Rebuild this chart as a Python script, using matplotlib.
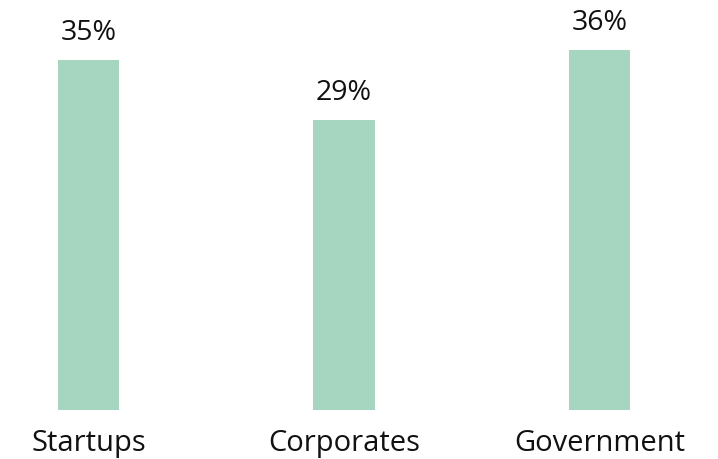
import matplotlib.pyplot as plt

categories = ['Startups', 'Corporates', 'Government']
shares = [35, 29, 36]

bar_color = '#a6d5c0'
plt.rcParams['font.family'] = ['Open Sans', 'DejaVu Sans']

fig = plt.figure(figsize=(7.18, 4.59), dpi=100)
ax = fig.add_axes([0, 0, 1, 1])

x = range(len(categories))
ax.bar(x, shares, width=0.239, color=bar_color)

# value labels above bars, category names below
for i, (name, v) in enumerate(zip(categories, shares)):
    ax.text(i, v + 2.0, f'{v}%', ha='center', va='baseline', fontsize=20.5, color='#111111')
    ax.text(i, -4.1, name, ha='center', va='baseline', fontsize=21, color='#111111')

ax.set_xlim(-0.3464, 2.4638)
ax.set_ylim(-4.9, 41)
ax.axis('off')

fig.savefig('out.png', dpi=100)
